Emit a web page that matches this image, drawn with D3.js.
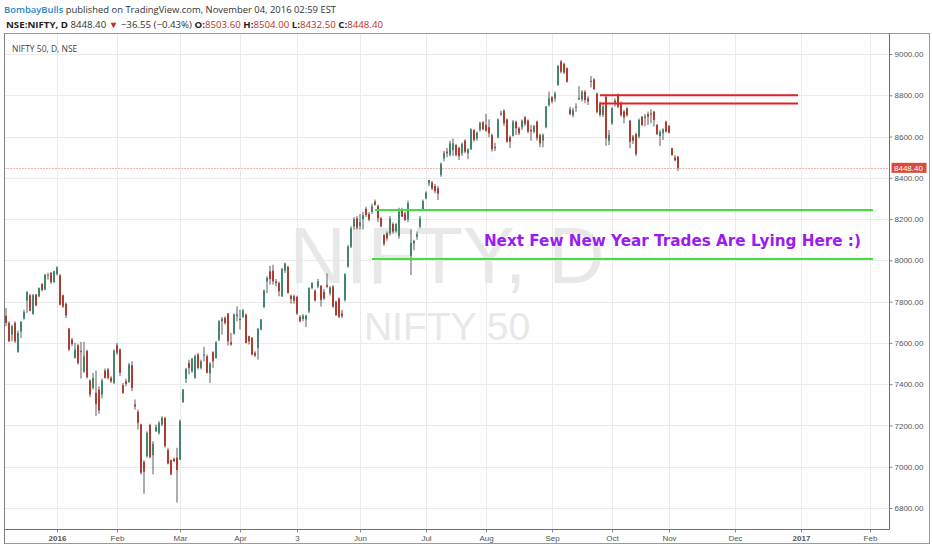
<!DOCTYPE html>
<html><head><meta charset="utf-8">
<script src="https://cdn.jsdelivr.net/npm/d3@7"></script>
<style>body{margin:0;background:#fff}svg{display:block}</style>
</head><body>
<svg id="c" width="932" height="550"></svg>
<script>
// ---- data (NIFTY 50 daily candles, Dec 8 2015 .. Nov 4 2016) ----
const opens=[7732,7697,7640,7697,7557,7656,7718,7805,7831,7740,
7834,7826,7885,7858,7927,7939,7895,7934,7927,7831,
7790,7669,7616,7527,7589,7555,7460,7560,7418,7382,
7358,7374,7350,7466,7471,7431,7406,7589,7568,7395,
7414,7411,7492,7302,7266,7205,7024,7052,7202,7056,
7172,7164,7205,7237,7081,7032,7039,7044,7035,7313,
7426,7503,7463,7431,7544,7479,7539,7535,7452,7555,
7527,7616,7705,7721,7742,7603,7645,7729,7716,7726,
7737,7632,7624,7552,7576,7665,7774,7898,7947,7950,
7898,7890,7826,7950,7968,7828,7826,7823,7726,7716,
7713,7753,7866,7852,7874,7876,7848,7881,7840,7873,
7800,7816,7743,7808,7970,8066,8163,8204,8165,8200,
8250,8225,8235,8285,8263,8204,8123,8131,8131,8176,
8142,8118,8247,8228,8199,8022,8082,8115,8163,8247,
8301,8373,8377,8360,8349,8414,8494,8527,8511,8535,
8559,8545,8519,8580,8519,8538,8632,8591,8632,8669,
8656,8645,8607,8543,8596,8713,8725,8683,8597,8603,
8672,8640,8645,8693,8677,8632,8624,8672,8607,8580,
8645,8753,8790,8785,8850,8963,8952,8931,8732,8703,
8740,8785,8780,8817,8785,8870,8877,8809,8761,8705,
8793,8580,8664,8774,8801,8764,8721,8737,8677,8600,
8612,8600,8696,8690,8709,8712,8720,8656,8603,8616,
8672,8651,8543,8499,8503.6];
const highs=[7769,7705,7689,7705,7660,7705,7761,7850,7837,7837,
7837,7869,7890,7934,7940,7944,7950,7971,7934,7834,
7795,7673,7624,7600,7595,7605,7605,7568,7423,7455,
7466,7390,7427,7476,7479,7439,7568,7600,7573,7406,
7427,7503,7511,7326,7277,7208,7031,7172,7208,7124,
7205,7221,7245,7242,7092,7035,7044,7092,7229,7377,
7479,7519,7527,7544,7552,7519,7581,7544,7506,7560,
7608,7710,7726,7729,7745,7648,7742,7777,7761,7765,
7742,7635,7629,7560,7673,7716,7858,7923,7974,7979,
7910,7898,7963,7990,7974,7834,7834,7829,7735,7740,
7737,7870,7895,7860,7910,7881,7862,7937,7875,7880,
7805,7820,7760,7937,8075,8165,8210,8215,8225,8235,
8260,8235,8275,8295,8270,8210,8128,8140,8215,8185,
8180,8255,8255,8235,8290,8150,8100,8140,8215,8295,
8335,8390,8385,8370,8360,8475,8530,8545,8580,8591,
8564,8551,8570,8587,8543,8640,8635,8624,8672,8675,
8710,8683,8615,8570,8688,8725,8732,8688,8605,8680,
8677,8648,8683,8700,8683,8656,8656,8677,8615,8615,
8748,8818,8796,8818,8947,8971,8958,8935,8745,8740,
8761,8845,8825,8825,8795,8893,8882,8812,8770,8765,
8797,8632,8742,8785,8809,8770,8729,8742,8680,8608,
8619,8688,8700,8709,8721,8732,8725,8661,8632,8640,
8677,8656,8546,8510,8504];
const lows=[7681,7605,7608,7600,7552,7624,7713,7745,7753,7737,
7777,7821,7850,7856,7906,7885,7890,7927,7782,7769,
7721,7560,7584,7524,7495,7427,7455,7427,7337,7374,
7245,7256,7331,7427,7423,7406,7401,7543,7439,7353,
7390,7406,7366,7277,7181,6963,6869,7043,7040,6963,
7169,7156,7197,7092,7011,6958,7023,6826,7032,7310,
7406,7447,7455,7426,7471,7471,7511,7452,7406,7479,
7523,7608,7640,7689,7587,7587,7640,7705,7665,7721,
7597,7592,7539,7532,7519,7661,7769,7842,7882,7882,
7874,7826,7823,7939,7839,7790,7790,7737,7700,7705,
7677,7745,7860,7800,7865,7776,7808,7865,7830,7770,
7730,7720,7720,7800,7965,8060,8150,8150,8150,8150,
8210,8190,8225,8265,8185,8160,8070,8095,8120,8130,
8135,8105,8210,8190,8185,7929,8050,8100,8155,8240,
8295,8360,8340,8325,8292,8405,8480,8500,8503,8506,
8503,8486,8506,8519,8490,8535,8575,8580,8624,8630,
8624,8596,8527,8530,8591,8700,8651,8570,8545,8600,
8607,8607,8632,8650,8616,8580,8616,8580,8548,8548,
8640,8745,8761,8769,8845,8906,8903,8861,8703,8693,
8720,8777,8770,8761,8753,8838,8825,8713,8696,8695,
8555,8559,8656,8745,8737,8696,8664,8696,8543,8564,
8506,8591,8650,8650,8656,8664,8648,8607,8554,8583,
8619,8615,8506,8480,8432.5];
const closes=[7697,7608,7681,7608,7648,7702,7750,7847,7756,7831,
7782,7866,7856,7931,7930,7895,7947,7966,7785,7777,
7734,7568,7595,7568,7503,7562,7535,7434,7350,7431,
7305,7272,7418,7431,7431,7414,7563,7552,7455,7358,
7401,7495,7382,7292,7213,6971,6976,7164,7047,7111,
7192,7213,7237,7100,7016,6963,7027,6984,7221,7374,
7474,7479,7523,7535,7479,7511,7544,7455,7500,7511,
7603,7705,7716,7697,7608,7592,7737,7737,7713,7758,
7600,7608,7544,7539,7668,7713,7855,7915,7910,7898,
7890,7850,7958,7984,7842,7812,7805,7742,7705,7732,
7732,7866,7890,7806,7898,7808,7816,7873,7869,7776,
7735,7727,7730,7934,8066,8155,8200,8158,8185,8220,
8220,8198,8262,8270,8204,8165,8080,8107,8204,8139,
8176,8236,8212,8196,8278,8085,8094,8127,8204,8287,
8328,8389,8349,8335,8323,8467,8521,8519,8567,8567,
8511,8505,8565,8527,8538,8635,8583,8619,8667,8635,
8628,8616,8538,8551,8683,8711,8665,8575,8575,8672,
8640,8616,8677,8661,8624,8625,8651,8592,8567,8607,
8745,8785,8770,8809,8942,8914,8910,8866,8709,8728,
8745,8780,8817,8777,8770,8866,8830,8720,8705,8745,
8591,8608,8737,8764,8745,8704,8693,8704,8575,8580,
8515,8680,8656,8698,8696,8706,8680,8612,8622,8635,
8624,8619,8511,8485,8448.4];

// time axis: bar index of each month start label (future bars included)
const monthLabels=["2016","Feb","Mar","Apr","3","Jun","Jul","Aug","Sep","Oct","Nov","Dec","2017","Feb"];
const monthIndex=[17,37,58,78,97,118,140,160,182,202,221,243,265,288];
const boldLabels=["2016","2017"];
const priceTicks=[6800,7000,7200,7400,7600,7800,8000,8200,8400,8600,8800,9000];
const lastPrice=8448.40;

// user drawings
const redLevels=[8800,8760];
const redSpan=[198,264];
const greenLevels=[8244,8007];
const greenSpans=[[123,289],[122,289]];
const noteText="Next Few New Year Trades Are Lying Here :)";
const noteAnchor=[159.3,8070];

// ---- layout ----
const W=932,H=550;
const plot={l:4.5,r:889.5,t:33.5,b:529.5};
const frame={r:929.5,b:543.5};
const svg=d3.select("#c");
const x=d3.scaleLinear().domain([0,288]).range([6,870]);
const y=d3.scaleLinear().domain([6800,9000]).range([508,54]);
const crisp=v=>Math.round(v)+0.5;

svg.append("rect").attr("width",W).attr("height",H).attr("fill","#fff");

svg.append("defs").append("clipPath").attr("id","pc")
  .append("rect").attr("x",plot.l).attr("y",plot.t).attr("width",plot.r-plot.l).attr("height",plot.b-plot.t);

// grid
const grid=svg.append("g").attr("stroke","#ebebeb").attr("stroke-width",1);
grid.selectAll("line.v").data(monthIndex).join("line").attr("class","v")
  .attr("x1",d=>crisp(x(d))).attr("x2",d=>crisp(x(d))).attr("y1",plot.t).attr("y2",plot.b);
grid.selectAll("line.h").data(priceTicks).join("line").attr("class","h")
  .attr("y1",d=>crisp(y(d))).attr("y2",d=>crisp(y(d))).attr("x1",plot.l).attr("x2",plot.r);

// watermark
const cx=(plot.l+plot.r)/2;
svg.append("text").attr("x",cx).attr("y",283).attr("text-anchor","middle")
  .attr("font-family","Liberation Sans, Arial, sans-serif").attr("font-size",80)
  .attr("fill","#e8e8e8").attr("textLength",315).attr("lengthAdjust","spacingAndGlyphs").text("NIFTY, D");
svg.append("text").attr("x",cx).attr("y",340).attr("text-anchor","middle")
  .attr("font-family","Liberation Sans, Arial, sans-serif").attr("font-size",39)
  .attr("fill","#e8e8e8").text("NIFTY 50");

// last price dotted line
svg.append("line").attr("x1",plot.l).attr("x2",plot.r)
  .attr("y1",crisp(y(lastPrice))).attr("y2",crisp(y(lastPrice)))
  .attr("stroke","#e06a60").attr("stroke-width",1).attr("stroke-dasharray","1,2");

// candles
const bars=d3.range(opens.length).map(i=>({i,o:opens[i],h:highs[i],l:lows[i],c:closes[i]}));
const up="#43876a", dn="#ad3c31", wick="#5f5f62";
const cg=svg.append("g").attr("clip-path","url(#pc)");
cg.selectAll("rect.w").data(bars).join("rect").attr("class","w")
  .attr("x",d=>x(d.i)-0.5).attr("width",1)
  .attr("y",d=>y(d.h)).attr("height",d=>Math.max(1,y(d.l)-y(d.h)))
  .attr("fill",wick);
cg.selectAll("rect.b").data(bars).join("rect").attr("class","b")
  .attr("x",d=>x(d.i)-1).attr("width",2)
  .attr("y",d=>y(Math.max(d.o,d.c))).attr("height",d=>Math.max(1,Math.abs(y(d.o)-y(d.c))))
  .attr("fill",d=>d.c>=d.o?up:dn);

// drawings
const dg=svg.append("g").attr("clip-path","url(#pc)");
dg.selectAll("line.red").data(redLevels).join("line").attr("class","red")
  .attr("x1",x(redSpan[0])).attr("x2",x(redSpan[1]))
  .attr("y1",d=>y(d)).attr("y2",d=>y(d))
  .attr("stroke","#e3202a").attr("stroke-width",2);
dg.selectAll("line.grn").data(greenLevels).join("line").attr("class","grn")
  .attr("x1",(d,k)=>x(greenSpans[k][0])).attr("x2",(d,k)=>x(greenSpans[k][1]))
  .attr("y1",d=>y(d)).attr("y2",d=>y(d))
  .attr("stroke","#3fe23a").attr("stroke-width",2);
dg.append("text").attr("x",x(noteAnchor[0])).attr("y",y(noteAnchor[1]))
  .attr("font-family","DejaVu Sans, Verdana, sans-serif").attr("font-weight","bold").attr("font-size",15)
  .attr("fill","#9a1cf2").attr("textLength",377).attr("lengthAdjust","spacingAndGlyphs").text(noteText);

// axes
const yAxis=svg.append("g").attr("transform",`translate(${plot.r},0)`)
  .call(d3.axisRight(y).tickValues(priceTicks).tickFormat(d3.format(".2f")).tickSize(3).tickPadding(2));
yAxis.select(".domain").remove();
yAxis.selectAll("line").attr("stroke","#888");
yAxis.selectAll("text").attr("font-family","Liberation Sans, Arial, sans-serif").attr("font-size",8).attr("fill","#555");

const xAxis=svg.append("g").attr("transform",`translate(0,${plot.b})`)
  .call(d3.axisBottom(x).tickValues(monthIndex).tickFormat((d,k)=>monthLabels[k]).tickSize(3).tickPadding(3));
xAxis.select(".domain").remove();
xAxis.selectAll("line").attr("stroke","#888");
xAxis.selectAll("text").attr("font-family","Liberation Sans, Arial, sans-serif").attr("font-size",8).attr("fill","#555")
  .attr("font-weight",(d,k)=>boldLabels.includes(monthLabels[k])?"bold":"normal");

// frame
const fr=svg.append("g").attr("fill","none");
fr.append("rect").attr("x",plot.l).attr("y",plot.t).attr("width",frame.r-plot.l).attr("height",frame.b-plot.t)
  .attr("stroke","#9a9a9a");
fr.append("line").attr("x1",plot.r).attr("x2",plot.r).attr("y1",plot.t).attr("y2",plot.b).attr("stroke","#6f6f6f");
fr.append("line").attr("x1",plot.l).attr("x2",plot.r).attr("y1",plot.b).attr("y2",plot.b).attr("stroke","#6f6f6f");
fr.append("line").attr("x1",plot.l).attr("x2",plot.l).attr("y1",plot.t).attr("y2",frame.b).attr("stroke","#7f7f7f");

// last price label
const ly=y(lastPrice);
svg.append("rect").attr("x",plot.r+2).attr("y",ly-5).attr("width",35).attr("height",10).attr("fill","#d84a3c");
svg.append("text").attr("x",plot.r+4.5).attr("y",ly+3).attr("font-family","Liberation Sans, Arial, sans-serif")
  .attr("font-size",8).attr("fill","#fff").text(d3.format(".2f")(lastPrice));

// legend
svg.append("text").attr("x",12).attr("y",51.5).attr("font-family","Open Sans, sans-serif").attr("font-size",8.5)
  .attr("fill","#444").text("NIFTY 50, D, NSE");

// header
const h1=svg.append("text").attr("x",4).attr("y",13).attr("font-family","Open Sans, sans-serif").attr("font-size",9)
  .attr("textLength",332).attr("lengthAdjust","spacingAndGlyphs");
h1.append("tspan").attr("fill","#2b86c5").attr("font-weight","600").text("BombayBulls");
h1.append("tspan").attr("fill","#333").text(" published on TradingView.com, November 04, 2016 02:59 EST");

const ohlc=[["O:","8503.60"],["H:","8504.00"],["L:","8432.50"],["C:","8448.40"]];
const h2=svg.append("text").attr("x",6).attr("y",27.5).attr("font-family","Open Sans, sans-serif").attr("font-size",9)
  .attr("textLength",377).attr("lengthAdjust","spacingAndGlyphs").attr("fill","#333");
h2.append("tspan").attr("font-weight","bold").attr("fill","#222").text("NSE:NIFTY, D");
h2.append("tspan").text(" 8448.40 ");
h2.append("tspan").attr("fill","#c0302a").text("▼");
h2.append("tspan").text(" −36.55 (−0.43%) ");
ohlc.forEach(([k,v],n)=>{
  h2.append("tspan").attr("font-weight","bold").attr("fill","#222").text((n?" ":"")+k);
  h2.append("tspan").attr("fill","#c0302a").text(v);
});
</script>
</body></html>
